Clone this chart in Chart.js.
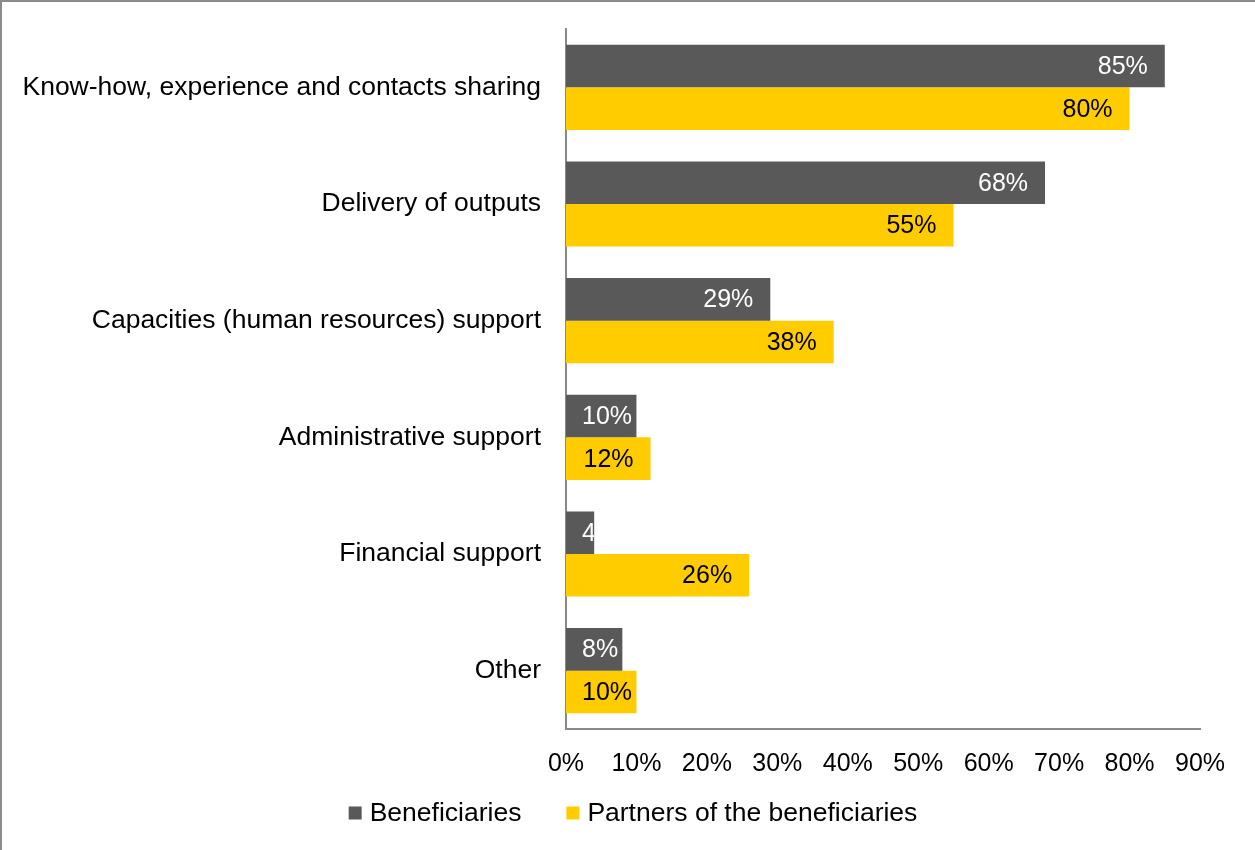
<!DOCTYPE html>
<html>
<head>
<meta charset="utf-8">
<script src="https://cdn.jsdelivr.net/npm/chart.js@4"></script>
<style>
    html, body {
        margin: 0;
        padding: 0;
        background: #ffffff;
    }

    .chart-wrap {
        position: relative;
        width: 1255px;
        height: 850px;
    }

    .chart-frame {
        position: absolute;
        left: 0;
        top: 0;
        width: 1255px;
        height: 850px;
        box-sizing: border-box;
        border-top: 2px solid #8c8c8c;
        border-left: 2px solid #8c8c8c;
        pointer-events: none;
    }
</style>
</head>
<body>
<div class="chart-wrap">
    <canvas id="supportChart" width="1255" height="850"></canvas>
    <div class="chart-frame"></div>
</div>

<script>
const categories = [
    'Know-how, experience and contacts sharing',
    'Delivery of outputs',
    'Capacities (human resources) support',
    'Administrative support',
    'Financial support',
    'Other'
];

const beneficiaries = [85, 68, 29, 10, 4, 8];
const partners = [80, 55, 38, 12, 26, 10];

const seriesNames = ['Beneficiaries', 'Partners of the beneficiaries'];
const seriesColors = ['#595959', '#ffcc00'];
const labelColors = ['#ffffff', '#000000'];

const xTicks = [0, 10, 20, 30, 40, 50, 60, 70, 80, 90];

const FONT = "'Liberation Sans', Arial, sans-serif";
const VALUE_SIZE = 25;
const LABEL_SIZE = 26.5;
const AXIS_COLOR = '#898989';

// value labels sit inside the bar end, clipped to the bar itself
const barLabels = {
    id: 'barLabels',
    afterDatasetsDraw(chart) {
        const ctx = chart.ctx;

        ctx.save();
        ctx.font = VALUE_SIZE + 'px ' + FONT;
        ctx.textAlign = 'right';
        ctx.textBaseline = 'middle';

        chart.data.datasets.forEach((ds, di) => {
            const meta = chart.getDatasetMeta(di);

            meta.data.forEach((bar, i) => {
                const text = ds.data[i] + '%';
                const w = ctx.measureText(text).width;
                const start = bar.base;
                const end = bar.x;
                const half = bar.height / 2;
                const right = Math.max(end - 17, start + 16 + w);

                ctx.save();
                ctx.beginPath();
                ctx.rect(start, bar.y - half, end - start, bar.height);
                ctx.clip();
                ctx.fillStyle = labelColors[di];
                ctx.fillText(text, right, bar.y + 1);
                ctx.restore();
            });
        });

        ctx.restore();
    }
};

// legend row under the axis, centred on the canvas
const bottomLegend = {
    id: 'bottomLegend',
    afterDraw(chart) {
        const ctx = chart.ctx;
        const box = 13;
        const gap = 8;
        const spacing = 45;
        const y = 813;

        ctx.save();
        ctx.font = LABEL_SIZE + 'px ' + FONT;
        ctx.textBaseline = 'middle';
        ctx.textAlign = 'left';

        const widths = chart.data.datasets.map(ds => box + gap + ctx.measureText(ds.label).width);
        const total = widths.reduce((a, b) => a + b, 0) + spacing * (widths.length - 1);
        let x = 633 - total / 2;

        chart.data.datasets.forEach((ds, di) => {
            ctx.fillStyle = ds.backgroundColor;
            ctx.fillRect(x, y - box / 2, box, box);
            ctx.fillStyle = '#000000';
            ctx.fillText(ds.label, x + box + gap, y + 1);
            x += widths[di] + spacing;
        });

        ctx.restore();
    }
};

const ctx = document.getElementById('supportChart').getContext('2d');

new Chart(ctx, {
    type: 'bar',
    data: {
        labels: categories,
        datasets: [{
            label: seriesNames[0],
            data: beneficiaries,
            backgroundColor: seriesColors[0],
            categoryPercentage: 0.73,
            barPercentage: 1
        }, {
            label: seriesNames[1],
            data: partners,
            backgroundColor: seriesColors[1],
            categoryPercentage: 0.73,
            barPercentage: 1
        }]
    },
    options: {
        indexAxis: 'y',
        responsive: false,
        devicePixelRatio: 1,
        animation: false,
        layout: {
            padding: {
                top: 29,
                right: 55,
                bottom: 0,
                left: 0
            }
        },
        plugins: {
            legend: {
                display: false
            },
            tooltip: {
                enabled: false
            }
        },
        scales: {
            x: {
                min: 0,
                max: 90,
                afterBuildTicks(scale) {
                    scale.ticks = xTicks.map(v => ({ value: v }));
                },
                afterFit(scale) {
                    scale.height = 121;
                    scale.paddingLeft = 0;
                    scale.paddingRight = 0;
                },
                grid: {
                    display: false,
                    drawTicks: false
                },
                border: {
                    display: true,
                    color: AXIS_COLOR,
                    width: 2
                },
                ticks: {
                    padding: 20,
                    color: '#000000',
                    maxRotation: 0,
                    autoSkip: false,
                    font: {
                        family: FONT,
                        size: VALUE_SIZE
                    },
                    callback: v => v + '%'
                }
            },
            y: {
                afterFit(scale) {
                    scale.width = 566;
                    scale.paddingTop = 0;
                    scale.paddingBottom = 0;
                },
                grid: {
                    display: false,
                    drawTicks: false
                },
                border: {
                    display: true,
                    color: AXIS_COLOR,
                    width: 2
                },
                ticks: {
                    padding: 25,
                    color: '#000000',
                    autoSkip: false,
                    font: {
                        family: FONT,
                        size: LABEL_SIZE
                    }
                }
            }
        }
    },
    plugins: [barLabels, bottomLegend]
});
</script>
</body>
</html>
